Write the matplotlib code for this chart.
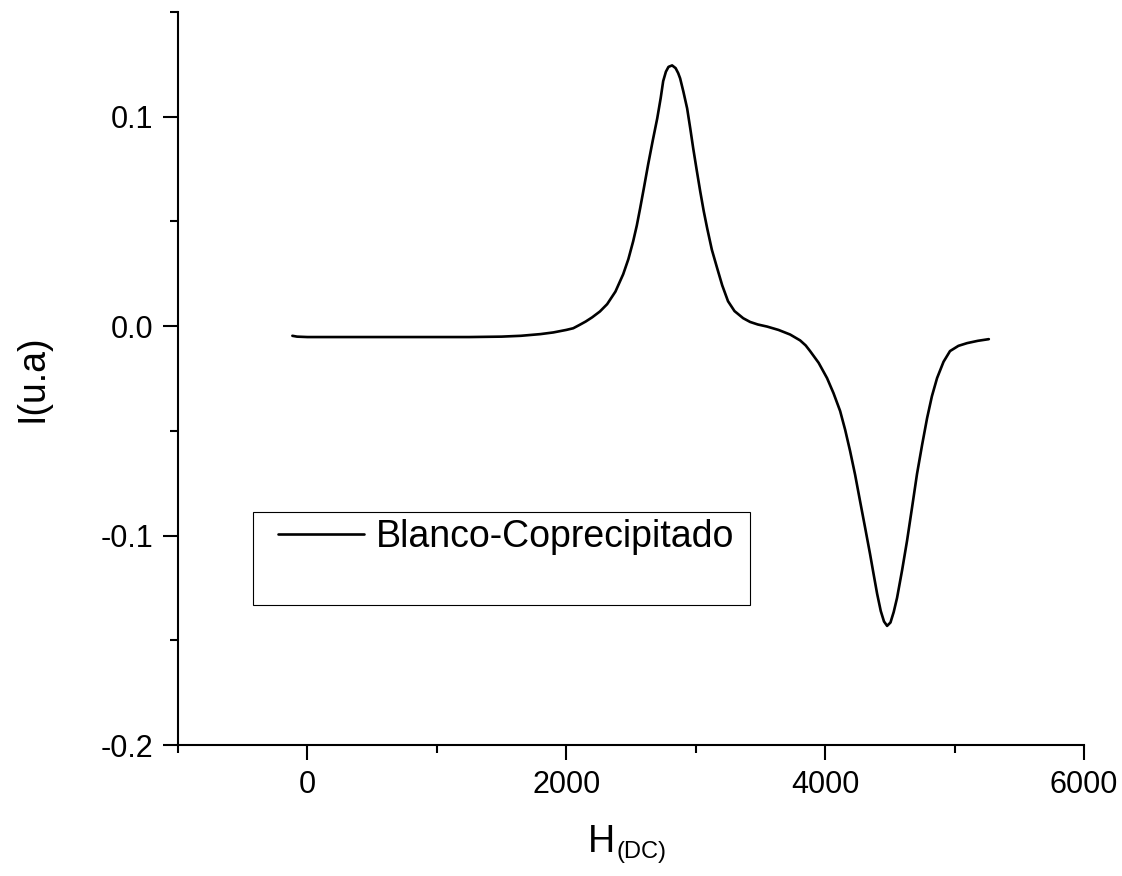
import numpy as np
import matplotlib
matplotlib.use("Agg")
import matplotlib.pyplot as plt
from matplotlib.patches import Rectangle
from matplotlib.ticker import MultipleLocator, FormatStrFormatter

# Datos (H en DC, intensidad en u.a.)
campo = [-116, -80, -40, 0, 250, 500, 750, 1000, 1250, 1500, 1650, 1800, 1900,
         2000, 2054, 2100, 2150, 2200, 2260, 2316, 2380, 2440, 2480, 2517,
         2545, 2571, 2600, 2633, 2668, 2703, 2730, 2749, 2770, 2790, 2818,
         2845, 2865, 2880, 2905, 2934, 2958, 2981, 3008, 3035, 3062, 3089,
         3125, 3166, 3205, 3250, 3300, 3367, 3421, 3480, 3552, 3640, 3730,
         3807, 3850, 3884, 3950, 4015, 4065, 4116, 4155, 4193, 4232, 4270,
         4310, 4347, 4375, 4402, 4430, 4455, 4479, 4505, 4530, 4556, 4595,
         4633, 4672, 4710, 4750, 4788, 4825, 4865, 4915, 4965, 5030, 5097,
         5180, 5265]
intensidad = [-0.0046, -0.0050, -0.0051, -0.0052, -0.0052, -0.0052, -0.0052,
              -0.0052, -0.0052, -0.0050, -0.0046, -0.0038, -0.0030,
              -0.0018, -0.0010, 0.0005, 0.0022, 0.0042, 0.0070, 0.0105, 0.0165,
              0.0248, 0.0320, 0.0405,
              0.0480, 0.0563, 0.0660, 0.0773, 0.0885, 0.0992, 0.1090, 0.1170,
              0.1215, 0.1238, 0.1245,
              0.1232, 0.1208, 0.1183, 0.1120, 0.1040, 0.0945, 0.0849, 0.0745,
              0.0644, 0.0550, 0.0467,
              0.0365, 0.0277, 0.0195, 0.0119, 0.0072, 0.0038, 0.0020, 0.0008,
              -0.0002, -0.0018, -0.0040,
              -0.0068, -0.0092, -0.0119, -0.0175, -0.0248, -0.0320, -0.0405,
              -0.0495, -0.0596, -0.0710, -0.0835,
              -0.0965, -0.1087, -0.1185, -0.1278, -0.1360, -0.1410, -0.1431,
              -0.1415, -0.1365, -0.1297, -0.1165,
              -0.1025, -0.0865, -0.0706, -0.0565, -0.0439, -0.0335, -0.0248,
              -0.0170, -0.0119, -0.0094, -0.0081,
              -0.0070, -0.0062]

plt.rcParams['font.family'] = ['Liberation Sans', 'DejaVu Sans']

fig = plt.figure(figsize=(11.22, 8.76), dpi=100)
ax = fig.add_axes([0.1586, 0.1495, 0.8075, 0.8368])

linea, = ax.plot(campo, intensidad, color='black', lw=1.9,
                 solid_joinstyle='round', solid_capstyle='round')

ax.set_xlim(-1000, 6000)
ax.set_ylim(-0.2, 0.15)
ax.xaxis.set_major_locator(MultipleLocator(2000))
ax.xaxis.set_minor_locator(MultipleLocator(1000))
ax.yaxis.set_major_locator(MultipleLocator(0.1))
ax.yaxis.set_minor_locator(MultipleLocator(0.05))
ax.yaxis.set_major_formatter(FormatStrFormatter('%.1f'))

for lado in ['top', 'right']:
    ax.spines[lado].set_visible(False)
for lado in ['left', 'bottom']:
    ax.spines[lado].set_linewidth(1.5)

ax.tick_params(which='major', direction='out', length=11, width=1.5,
               labelsize=22, pad=7)
ax.tick_params(which='minor', direction='out', length=5.5, width=1.5)

# Etiqueta del eje x: H con subindice (DC) mas bajo, como en Origin
fig.text(615 / 1122, 1 - 852 / 876, 'H', fontsize=27, ha='right',
         va='baseline')
fig.text(617 / 1122, 1 - 858 / 876, '(DC)', fontsize=17, ha='left',
         va='baseline')
ax.set_ylabel('I(u.a)', fontsize=27, labelpad=36)

# Leyenda con marco estilo Origin (caja mas alta que el texto)
ax.add_patch(Rectangle((0.0828, 0.191), 0.5486, 0.1269, transform=ax.transAxes,
                       fill=False, edgecolor='black', lw=0.8))
ax.legend([linea], ['Blanco-Coprecipitado'], loc='center left',
          bbox_to_anchor=(0.1104, 0.2838), fontsize=27, frameon=False,
          handlelength=2.3, handletextpad=0.32, borderpad=0, borderaxespad=0)

fig.savefig('out.png', dpi=100)
